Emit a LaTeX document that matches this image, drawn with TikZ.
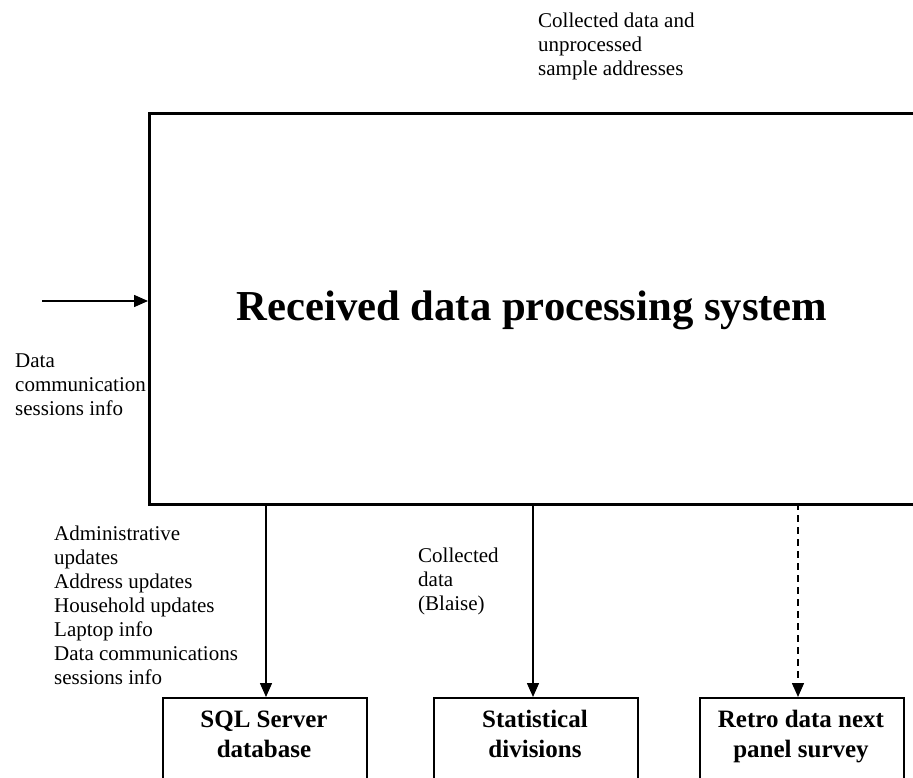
\documentclass[tikz,border=0pt]{standalone}
\usepackage{fontspec}
\setmainfont{Liberation Serif}
\usetikzlibrary{arrows.meta}
\begin{document}
\begin{tikzpicture}[x=1pt,y=-1pt,
  lbl/.style={inner sep=0pt,anchor=base west,align=left,font=\fontsize{21}{24}\selectfont},
  outbox/.style={draw,line width=1.5pt,minimum width=204pt,minimum height=120pt,anchor=north west,inner sep=0pt},
  boxlbl/.style={inner sep=0pt,anchor=base,align=center,font=\bfseries\fontsize{25}{30}\selectfont},
  flow/.style={line width=1.5pt,-{Triangle[length=14pt,width=12pt]}}]
\useasboundingbox (0,0) rectangle (913,778);
\clip (0,0) rectangle (913,778);
% main box
\node[draw,line width=3pt,anchor=north west,minimum width=800pt,minimum height=391pt,inner sep=0pt] (main) at (148,112) {};
\node[inner sep=0pt,anchor=base,font=\bfseries\fontsize{42.7}{48}\selectfont] (title) at (532,320) {Received data processing system};
% input
\coordinate (inA) at (42,301);
\coordinate (inB) at (148,301);
\draw[flow] (inA) -- (inB);
\node[lbl] (inlbl) at (15,415) {Data\\communication\\sessions info};
\node[lbl] (toplbl) at (538,76) {Collected data and\\unprocessed\\sample addresses};
% output boxes
\node[outbox] (sql) at (162,697) {};
\node[outbox] (stat) at (433,697) {};
\node[outbox] (retro) at (699,697) {};
\node[boxlbl] (sqlt) at (264,757) {SQL Server\\database};
\node[boxlbl] (statt) at (535,757) {Statistical\\divisions};
\node[boxlbl] (retrot) at (801,757) {Retro data next\\panel survey};
% connectors
\coordinate (o1) at (266,503);
\coordinate (e1) at (266,697);
\coordinate (o2) at (533,503);
\coordinate (e2) at (533,697);
\coordinate (o3) at (798,503);
\coordinate (e3) at (798,697);
\draw[flow] (o1) -- (e1);
\draw[flow] (o2) -- (e2);
\draw[flow,dash pattern=on 7pt off 5pt] (o3) -- (e3);
\node[lbl] (l1) at (54,684) {Administrative\\updates\\Address updates\\Household updates\\Laptop info\\Data communications\\sessions info};
\node[lbl] (l2) at (418,610) {Collected\\data\\(Blaise)};
\end{tikzpicture}
\end{document}
